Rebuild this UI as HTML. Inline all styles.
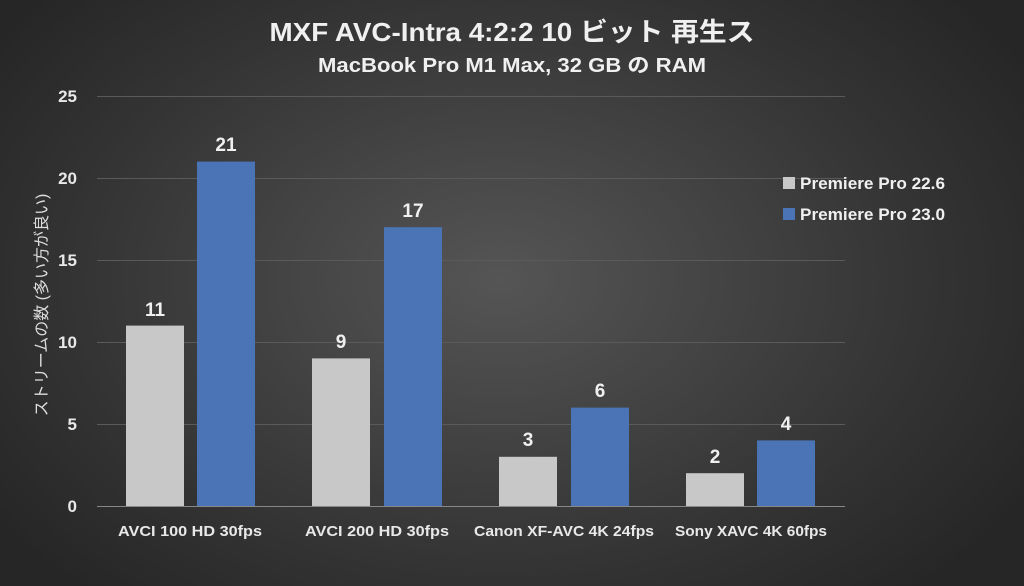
<!DOCTYPE html><html><head><style>
body{margin:0;width:1024px;height:586px;overflow:hidden;background:radial-gradient(ellipse 620px 420px at 500px 280px,#555 0%,#444 35%,#333 70%,#262626 100%);font-family:"Liberation Sans","Noto Sans CJK JP",sans-serif;}
</style></head><body>
<svg width="1024" height="586" xmlns="http://www.w3.org/2000/svg" style="position:absolute;left:0;top:0">
<g font-family="Liberation Sans, Noto Sans CJK JP, sans-serif" fill="#f0f0f0" font-weight="bold">
<text x="512" y="41" font-size="26" text-anchor="middle" textLength="485" lengthAdjust="spacingAndGlyphs">MXF AVC-Intra 4:2:2 10 ビット 再生ス</text>
<text x="512" y="72" font-size="20" text-anchor="middle" textLength="388" lengthAdjust="spacingAndGlyphs">MacBook Pro M1 Max, 32 GB の RAM</text>
</g>
<g stroke="#5a5a5a" stroke-width="1">
<line x1="97" x2="845" y1="96.5" y2="96.5"/><line x1="97" x2="845" y1="178.5" y2="178.5"/>
<line x1="97" x2="845" y1="260.5" y2="260.5"/><line x1="97" x2="845" y1="342.5" y2="342.5"/>
<line x1="97" x2="845" y1="424.5" y2="424.5"/></g>
<line x1="97" x2="845" y1="506.5" y2="506.5" stroke="#888"/>
<g font-size="17" font-weight="bold" fill="#e8e8e8" text-anchor="end" font-family="Liberation Sans, sans-serif">
<text x="77" y="102">25</text><text x="77" y="184">20</text><text x="77" y="266">15</text><text x="77" y="348">10</text><text x="77" y="430">5</text><text x="77" y="512">0</text></g>
<text transform="translate(47,305) rotate(-90)" font-size="16" fill="#ddd" text-anchor="middle" font-family="Liberation Sans, Noto Sans CJK JP, sans-serif">ストリームの数 (多い方が良い)</text>
<g fill="#c8c8c8">
<rect x="126" y="325.6" width="58" height="180.4"/><rect x="312" y="358.4" width="58" height="147.6"/>
<rect x="499" y="456.8" width="58" height="49.2"/><rect x="686" y="473.2" width="58" height="32.8"/></g>
<g fill="#4a74b6">
<rect x="197" y="161.6" width="58" height="344.4"/><rect x="384" y="227.2" width="58" height="278.8"/>
<rect x="571" y="407.6" width="58" height="98.4"/><rect x="757" y="440.4" width="58" height="65.6"/></g>
<g font-size="19" font-weight="bold" fill="#f0f0f0" text-anchor="middle" font-family="Liberation Sans, sans-serif">
<text x="155" y="316">11</text><text x="226" y="151">21</text><text x="341" y="348">9</text><text x="413" y="217">17</text>
<text x="528" y="446">3</text><text x="600" y="397">6</text><text x="715" y="463">2</text><text x="786" y="430">4</text></g>
<g font-size="15" font-weight="bold" fill="#e8e8e8" text-anchor="middle" font-family="Liberation Sans, sans-serif">
<text x="190" y="536" textLength="144" lengthAdjust="spacingAndGlyphs">AVCI 100 HD 30fps</text><text x="377" y="536" textLength="144" lengthAdjust="spacingAndGlyphs">AVCI 200 HD 30fps</text>
<text x="564" y="536" textLength="180" lengthAdjust="spacingAndGlyphs">Canon XF-AVC 4K 24fps</text><text x="751" y="536" textLength="152" lengthAdjust="spacingAndGlyphs">Sony XAVC 4K 60fps</text></g>
<rect x="783" y="177" width="12" height="12" fill="#c8c8c8"/><rect x="783" y="208" width="12" height="12" fill="#4a74b6"/>
<g font-size="17" font-weight="bold" fill="#f0f0f0" font-family="Liberation Sans, sans-serif">
<text x="800" y="189" textLength="145" lengthAdjust="spacingAndGlyphs">Premiere Pro 22.6</text><text x="800" y="220" textLength="145" lengthAdjust="spacingAndGlyphs">Premiere Pro 23.0</text></g>
</svg></body></html>
